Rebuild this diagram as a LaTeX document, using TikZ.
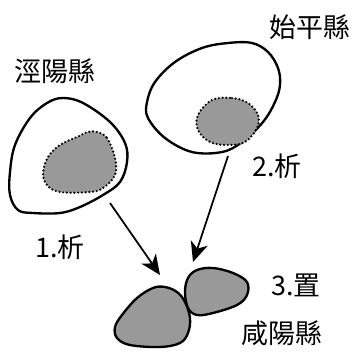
\documentclass[tikz,border=0pt]{standalone}
\usepackage{fontspec}
\setmainfont{Noto Sans CJK TC}
\usetikzlibrary{arrows.meta}
\begin{document}
\begin{tikzpicture}[x=0.03cm,y=-0.03cm,
  lab/.style={font=\fontsize{23}{24}\selectfont,inner sep=0pt},
  xian/.style={line width=2pt,line join=round},
  core/.style={fill=black!40,draw=black,line width=2.1pt,dash pattern=on 0pt off 3.2pt,line cap=round},
  newxian/.style={fill=black!40,draw=black,line width=2pt,line join=round},
  arr/.style={-{Stealth[length=17pt,width=15pt,inset=5pt]},line width=1.5pt}]
\useasboundingbox (0,0) rectangle (352,355);
% old counties
\draw[xian] plot[smooth cycle,tension=0.6] coordinates {(63,98) (83,103) (110,122) (125,143) (127,162) (120,182) (103,195) (80,207) (60,213) (33,213) (18,210) (10,195) (10,172) (15,145) (30,118) (47,103)};
\draw[core] plot[smooth cycle,tension=0.6] coordinates {(97,132) (107,138) (115,158) (115,175) (103,188) (90,192) (60,192) (47,185) (43,173) (48,157) (60,145) (77,137) (88,132)};
\draw[xian] plot[smooth cycle,tension=0.6] coordinates {(202,48) (228,43) (252,43) (268,52) (278,68) (280,85) (275,102) (263,122) (242,142) (222,152) (192,152) (165,138) (148,118) (147,102) (155,82) (175,62)};
\draw[core] plot[smooth cycle,tension=0.6] coordinates {(212,100) (232,98) (248,103) (258,115) (257,128) (245,142) (228,145) (210,142) (198,130) (198,115)};
% new county
\draw[newxian] plot[smooth cycle,tension=0.6] coordinates {(165,287) (177,292) (185,302) (190,318) (188,333) (180,343) (160,347) (130,345) (117,338) (115,327) (122,315) (137,298) (153,288)};
\draw[newxian] plot[smooth cycle,tension=0.6] coordinates {(197,270) (213,268) (233,273) (247,282) (247,295) (237,305) (213,313) (197,315) (188,308) (185,292) (188,278)};
% arrows
\coordinate (s1) at (110,203); \coordinate (t1) at (160,275);
\coordinate (s2) at (228,156); \coordinate (t2) at (193,262);
\draw[arr] (s1) -- (t1);
\draw[arr] (s2) -- (t2);
% labels
\node[lab] (jing) at (55,71) {涇陽縣};
\node[lab] (shiping) at (310,27) {始平縣};
\node[lab] (xi1) at (60,247) {1.析};
\node[lab] (xi2) at (277,166) {2.析};
\node[lab] (zhi) at (296,285) {3.置};
\node[lab] (xianyang) at (282,333) {咸陽縣};
\end{tikzpicture}
\end{document}
